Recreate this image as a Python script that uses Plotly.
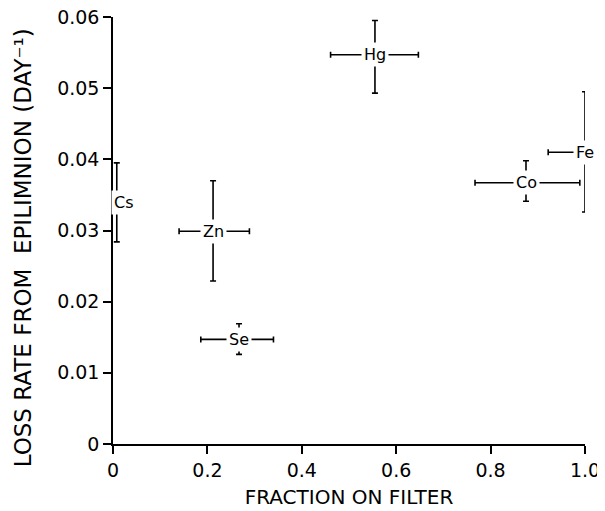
import plotly.graph_objects as go

elements = ["Cs", "Zn", "Se", "Hg", "Co", "Fe"]
frac = [0.008, 0.212, 0.267, 0.555, 0.875, 1.0]
frac_lo = [0.008, 0.140, 0.186, 0.461, 0.767, 0.922]
frac_hi = [0.008, 0.289, 0.340, 0.647, 0.989, 1.0]
rate = [0.0339, 0.0299, 0.0147, 0.0547, 0.0367, 0.0410]
rate_lo = [0.0284, 0.0229, 0.0126, 0.0493, 0.0341, 0.0326]
rate_hi = [0.0395, 0.0370, 0.0169, 0.0595, 0.0398, 0.0495]

x_ticks = [0, 0.2, 0.4, 0.6, 0.8, 1.0]
x_ticktext = ["0", "0.2", "0.4", "0.6", "0.8", "1.0"]
y_ticks = [0, 0.01, 0.02, 0.03, 0.04, 0.05, 0.06]
y_ticktext = ["0", "0.01", "0.02", "0.03", "0.04", "0.05", "0.06"]

x_title = "FRACTION ON FILTER"
y_title = "LOSS RATE FROM  EPILIMNION (DAY⁻¹)"

FONT = "DejaVu Sans"

fig = go.Figure()
fig.add_trace(go.Scatter(
    x=frac, y=rate, mode="markers",
    marker=dict(size=1, color="rgba(0,0,0,0)"),
    error_x=dict(type="data", symmetric=False,
                 array=[h - v for h, v in zip(frac_hi, frac)],
                 arrayminus=[v - l for v, l in zip(frac, frac_lo)],
                 color="black", thickness=1.6, width=3),
    error_y=dict(type="data", symmetric=False,
                 array=[h - v for h, v in zip(rate_hi, rate)],
                 arrayminus=[v - l for v, l in zip(rate, rate_lo)],
                 color="black", thickness=1.6, width=3),
    cliponaxis=False, showlegend=False, hoverinfo="skip",
))

for el, xv, yv in zip(elements, frac, rate):
    fig.add_annotation(
        x=xv, y=yv, text=el, showarrow=False,
        xshift=7 if el == "Cs" else 0,
        bgcolor="white", borderpad=2,
        font=dict(family=FONT, size=16, color="black"),
    )

fig.add_annotation(
    xref="paper", yref="paper", x=-0.19, y=0.459,
    text=y_title, textangle=-90, showarrow=False,
    xanchor="center", yanchor="middle",
    font=dict(family=FONT, size=23, color="black"),
)

fig.update_xaxes(
    range=[0, 1.0], tickvals=x_ticks, ticktext=x_ticktext, automargin=False,
    ticklabeloverflow="allow",
    showgrid=False, zeroline=False, showline=True, linecolor="black", linewidth=1.5,
    ticks="outside", ticklen=8, tickwidth=1.5, tickcolor="black",
    tickfont=dict(family=FONT, size=19, color="black"),
    title=dict(text=x_title, standoff=10,
               font=dict(family=FONT, size=20, color="black")),
)
fig.update_yaxes(
    range=[0, 0.06], tickvals=y_ticks, ticktext=y_ticktext, automargin=False,
    ticklabeloverflow="allow",
    showgrid=False, zeroline=False, showline=True, linecolor="black", linewidth=1.5,
    ticks="outside", ticklen=8, tickwidth=1.5, tickcolor="black",
    tickfont=dict(family=FONT, size=19, color="black"),
)
fig.update_layout(
    width=597, height=503,
    margin=dict(l=105, r=20, t=9, b=67),
    plot_bgcolor="white", paper_bgcolor="white",
)
fig.write_html("out.html")
